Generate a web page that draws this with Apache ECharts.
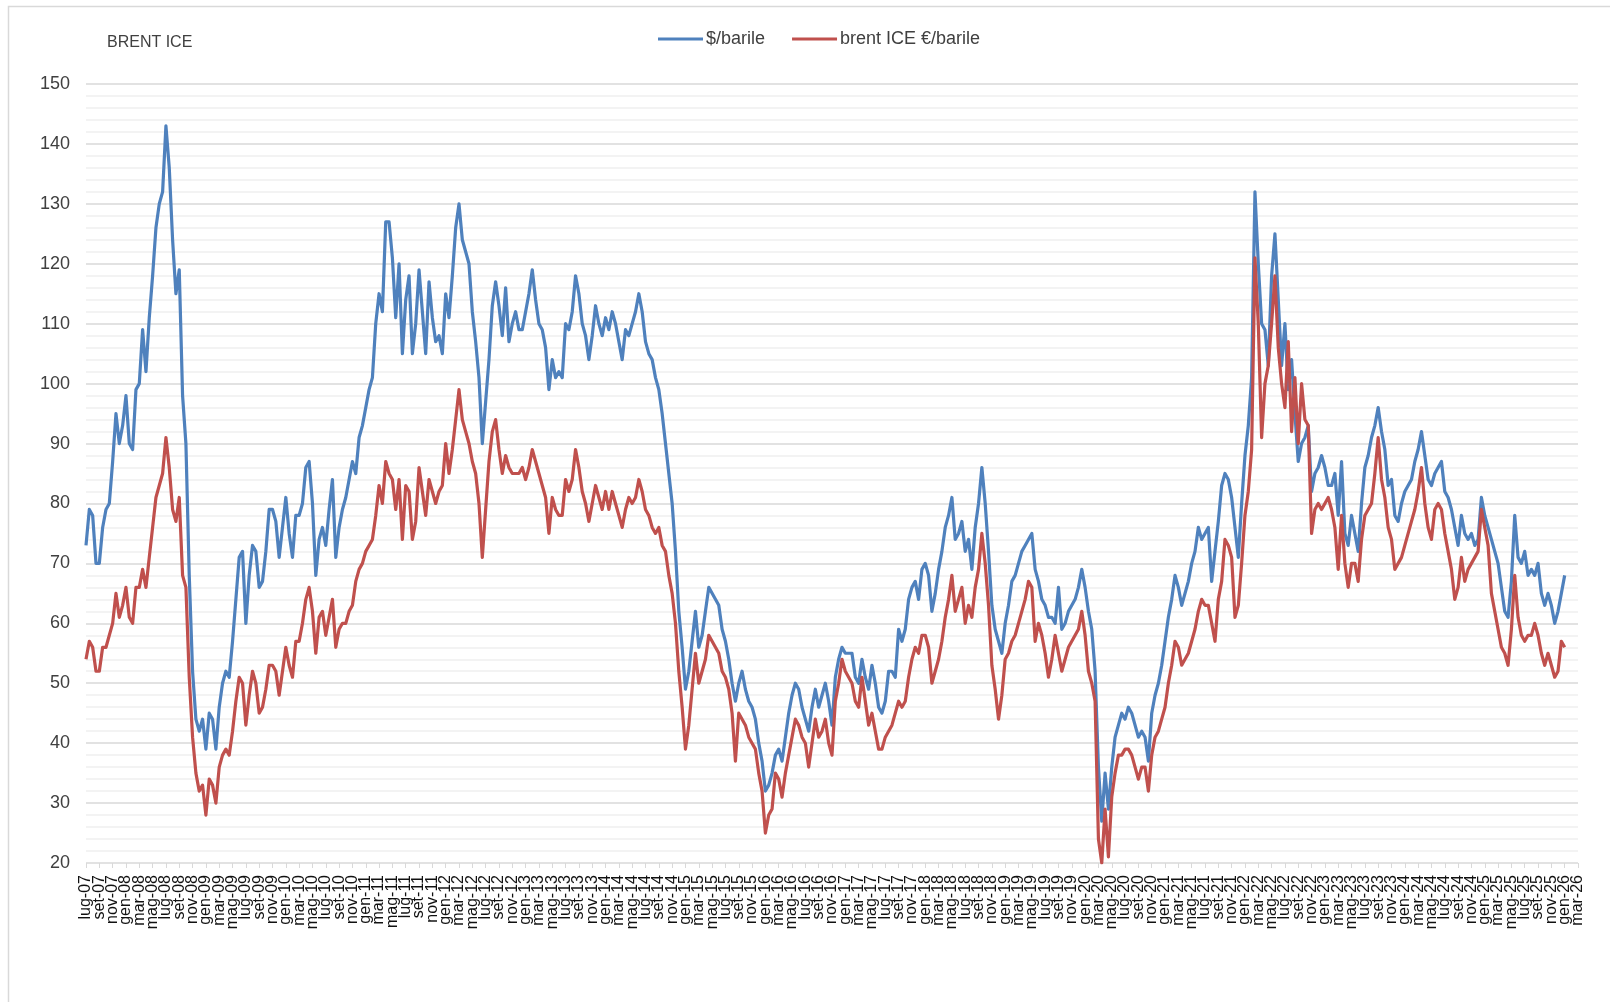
<!DOCTYPE html>
<html>
<head>
<meta charset="utf-8">
<title>BRENT ICE</title>
<script src="https://cdn.jsdelivr.net/npm/echarts@6/dist/echarts.min.js"></script>
<style>
  html, body { margin: 0; padding: 0; background: #fff; }
  #chart { width: 1610px; height: 1002px; }
</style>
</head>
<body>
<div id="chart"></div>
<script>
// mesi in italiano, asse da lug-07 a mar-26 (due punti per mese)
const monthNames = ['gen', 'feb', 'mar', 'apr', 'mag', 'giu', 'lug', 'ago', 'set', 'ott', 'nov', 'dic']
const firstYear = 2007
const firstMonth = 6 // lug
const axisMonths = 225

// $/barile, un valore a inizio mese e uno a metà mese (da lug-07)
const usdBarrel = [
  73, 79, 78, 70, 70, 76, 79, 80, 87, 95, 90, 93, // 2007
  98, 90, 89, 99, 100, 109, 102, 111, 118, 126, 130, 132, 143, 136, 124, 115, 119, 98, 90, 68, 52, 44, 42, 44, // 2008
  39, 45, 44, 39, 46, 50, 52, 51, 57, 64, 71, 72, 60, 68, 73, 72, 66, 67, 72, 79, 79, 77, 71, 76, // 2009
  81, 75, 71, 78, 78, 80, 86, 87, 80, 68, 74, 76, 73, 79, 84, 71, 76, 79, 81, 84, 87, 85, 91, 93, // 2010
  96, 99, 101, 110, 115, 112, 127, 127, 121, 111, 120, 105, 114, 118, 105, 110, 119, 112, 105, 117, 111, 107, 108, 105, // 2011
  115, 111, 118, 126, 130, 124, 122, 120, 112, 107, 101, 90, 97, 104, 113, 117, 113, 108, 116, 107, 110, 112, 109, 109, // 2012
  112, 115, 119, 114, 110, 109, 106, 99, 104, 101, 102, 101, 110, 109, 112, 118, 115, 110, 108, 104, 108, 113, 110, 108, // 2013
  111, 109, 112, 110, 107, 104, 109, 108, 110, 112, 115, 112, 107, 105, 104, 101, 99, 95, 90, 85, 80, 72, 62, 56, // 2014
  49, 52, 57, 62, 56, 58, 62, 66, 65, 64, 63, 59, 57, 54, 50, 47, 50, 52, 49, 47, 46, 44, 40, 37, // 2015
  32, 33, 35, 38, 39, 37, 41, 45, 48, 50, 49, 46, 44, 42, 46, 49, 46, 48, 50, 47, 43, 51, 54, 56, // 2016
  55, 55, 55, 51, 50, 54, 51, 49, 53, 50, 46, 45, 47, 52, 52, 51, 59, 57, 59, 64, 66, 67, 64, 69, // 2017
  70, 68, 62, 65, 69, 72, 76, 78, 81, 74, 75, 77, 72, 74, 69, 76, 80, 86, 80, 72, 63, 59, 57, 55, // 2018
  60, 63, 67, 68, 70, 72, 73, 74, 75, 69, 67, 64, 63, 61, 61, 60, 66, 59, 60, 62, 63, 64, 66, 69, // 2019
  66, 62, 59, 52, 36, 27, 35, 29, 36, 41, 43, 45, 44, 46, 45, 43, 41, 42, 41, 37, 45, 48, 50, 53, // 2020
  57, 61, 64, 68, 66, 63, 65, 67, 70, 72, 76, 74, 75, 76, 67, 72, 77, 83, 85, 84, 81, 76, 71, 80, // 2021
  88, 93, 101, 132, 120, 110, 109, 103, 118, 125, 114, 103, 110, 99, 104, 95, 87, 90, 91, 93, 82, 85, 86, 88, // 2022
  86, 83, 83, 85, 78, 87, 75, 73, 78, 75, 72, 80, 86, 88, 91, 93, 96, 92, 89, 83, 84, 78, 77, 80, // 2023
  82, 83, 84, 87, 89, 92, 88, 84, 83, 85, 86, 87, 82, 81, 79, 76, 73, 78, 75, 74, 75, 73, 74, 81, // 2024
  78, 76, 74, 72, 70, 66, 62, 61, 67, 78, 71, 70, 72, 68, 69, 68, 70, 65, 63, 65, 63, 60, 62, 65, // 2025
  68 // 2026
]

// brent ICE €/barile, stesse date
const eurBarrel = [
  54, 57, 56, 52, 52, 56, 56, 58, 60, 65, 61, 63, // 2007
  66, 61, 60, 66, 66, 69, 66, 71, 76, 81, 83, 85, 91, 86, 79, 77, 81, 68, 66, 51, 41, 35, 32, 33, // 2008
  28, 34, 33, 30, 36, 38, 39, 38, 42, 47, 51, 50, 43, 48, 52, 50, 45, 46, 49, 53, 53, 52, 48, 52, // 2009
  56, 53, 51, 57, 57, 60, 64, 66, 62, 55, 61, 62, 58, 61, 64, 56, 59, 60, 60, 62, 63, 67, 69, 70, // 2010
  72, 73, 74, 78, 83, 80, 87, 85, 84, 79, 84, 74, 83, 82, 74, 77, 86, 82, 78, 84, 82, 80, 82, 83, // 2011
  90, 85, 89, 94, 99, 94, 92, 90, 87, 85, 80, 71, 79, 87, 92, 94, 89, 85, 88, 86, 85, 85, 85, 86, // 2012
  84, 86, 89, 87, 85, 83, 81, 75, 81, 79, 78, 78, 84, 82, 84, 89, 86, 82, 80, 77, 80, 83, 81, 79, // 2013
  82, 79, 82, 80, 78, 76, 79, 81, 80, 81, 84, 82, 79, 78, 76, 75, 76, 73, 72, 68, 65, 60, 52, 46, // 2014
  39, 43, 49, 55, 50, 52, 54, 58, 57, 56, 55, 52, 51, 49, 45, 37, 45, 44, 43, 41, 40, 39, 35, 32, // 2015
  25, 28, 29, 35, 34, 31, 35, 38, 41, 44, 43, 41, 40, 36, 40, 44, 41, 42, 44, 40, 38, 47, 50, 54, // 2016
  52, 51, 50, 47, 46, 51, 47, 43, 45, 42, 39, 39, 41, 42, 43, 45, 47, 46, 47, 51, 54, 56, 55, 58, // 2017
  58, 56, 50, 52, 54, 57, 61, 64, 68, 62, 64, 66, 60, 63, 61, 66, 69, 75, 70, 63, 53, 49, 44, 48, // 2018
  54, 55, 57, 58, 60, 62, 64, 67, 66, 57, 60, 58, 55, 51, 54, 58, 55, 52, 54, 56, 57, 58, 59, 62, // 2019
  58, 52, 50, 47, 24, 20, 29, 21, 31, 35, 38, 38, 39, 39, 38, 36, 34, 36, 36, 32, 38, 41, 42, 44, // 2020
  46, 50, 53, 57, 56, 53, 54, 55, 57, 59, 62, 64, 63, 63, 60, 57, 64, 67, 74, 73, 71, 61, 63, 70, // 2021
  78, 82, 89, 121, 110, 91, 100, 103, 110, 118, 106, 100, 96, 107, 92, 101, 90, 100, 94, 93, 75, 79, 80, 79, // 2022
  80, 81, 79, 76, 69, 78, 70, 66, 70, 70, 67, 74, 78, 79, 80, 85, 91, 84, 81, 76, 74, 69, 70, 71, // 2023
  73, 75, 77, 79, 82, 86, 80, 76, 74, 79, 80, 79, 75, 72, 69, 64, 66, 71, 67, 69, 70, 71, 72, 79, // 2024
  76, 73, 65, 62, 59, 56, 55, 53, 59, 68, 61, 58, 57, 58, 58, 60, 58, 55, 53, 55, 53, 51, 52, 57, // 2025
  56 // 2026
]

const yTicks = { min: 20, max: 150, step: 10 }

// categorie: inizio e metà di ogni mese, ultima = mar-26
const categories = []
for (let k = 0; k < axisMonths; k++) {
  const m = (firstMonth + k) % 12
  const y = firstYear + Math.floor((firstMonth + k) / 12)
  const label = monthNames[m] + '-' + String(y).slice(2)
  categories.push(label)
  categories.push(label + ' 15')
}
categories.pop()

// un'etichetta ogni due mesi (ogni 4 categorie)
const labelEvery = 4

const textFont = '"Liberation Sans", Arial, sans-serif'

const chart = echarts.init(document.getElementById('chart'), null, { renderer: 'canvas' })

chart.setOption({
  animation: false,
  backgroundColor: '#fff',
  graphic: [
    {
      // cornice: si vedono solo il lato sinistro e quello superiore
      type: 'rect',
      shape: { x: 8.5, y: 6.5, width: 1700, height: 1100 },
      style: { fill: 'none', stroke: '#d9d9d9', lineWidth: 1.5 },
      silent: true,
    },
  ],
  title: {
    text: 'BRENT ICE',
    left: 102,
    top: 30,
    textStyle: {
      fontFamily: textFont,
      fontSize: 16,
      fontWeight: 'normal',
      color: '#404040',
    },
  },
  legend: {
    data: ['$/barile', 'brent ICE €/barile'],
    left: 653,
    top: 25,
    icon: 'rect',
    itemWidth: 45,
    itemHeight: 3,
    itemGap: 27,
    textStyle: {
      fontFamily: textFont,
      fontSize: 18,
      color: '#404040',
      padding: [0, 0, 0, -2],
    },
  },
  grid: {
    left: 86,
    right: 32,
    top: 84,
    bottom: 139,
    containLabel: false,
  },
  xAxis: {
    type: 'category',
    boundaryGap: false,
    data: categories,
    axisLine: { show: false },
    axisTick: {
      show: true,
      interval: labelEvery - 1,
      length: 5,
      lineStyle: { color: '#d9d9d9' },
    },
    axisLabel: {
      interval: 0,
      rotate: 90,
      margin: 12,
      fontFamily: textFont,
      fontSize: 16,
      color: '#111',
      formatter: (v, idx) => (idx % labelEvery === 0 ? v.split(' ')[0] : ''),
    },
    splitLine: { show: false },
  },
  yAxis: {
    type: 'value',
    min: yTicks.min,
    max: yTicks.max,
    interval: yTicks.step,
    axisLine: { show: false },
    axisTick: { show: false },
    axisLabel: {
      margin: 16,
      fontFamily: textFont,
      fontSize: 18,
      color: '#404040',
    },
    splitLine: {
      show: true,
      lineStyle: { color: '#d9d9d9', width: 1.5 },
    },
    minorTick: { show: false, splitNumber: 5 },
    minorSplitLine: {
      show: true,
      lineStyle: { color: '#efefef', width: 1.5 },
    },
  },
  series: [
    {
      name: '$/barile',
      type: 'line',
      data: usdBarrel,
      showSymbol: false,
      symbol: 'none',
      itemStyle: { color: '#4F81BD' },
      lineStyle: { color: '#4F81BD', width: 3.2, join: 'round' },
    },
    {
      name: 'brent ICE €/barile',
      type: 'line',
      data: eurBarrel,
      showSymbol: false,
      symbol: 'none',
      itemStyle: { color: '#C0504D' },
      lineStyle: { color: '#C0504D', width: 3.2, join: 'round' },
    },
  ],
})
</script>
</body>
</html>
